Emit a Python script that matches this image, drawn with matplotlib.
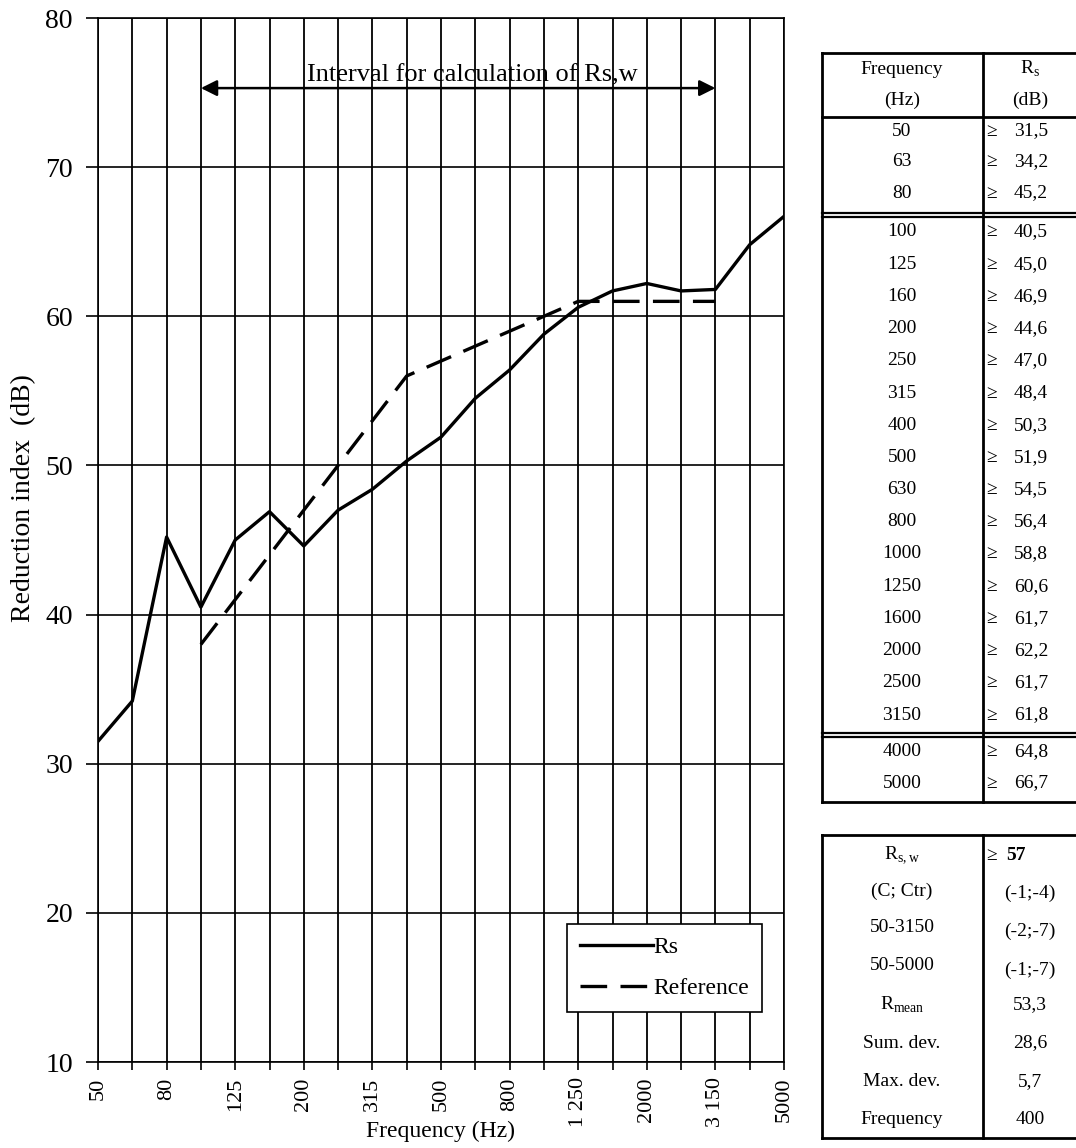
import matplotlib.pyplot as plt

plt.rcParams["font.family"] = ["Liberation Serif", "DejaVu Serif"]

# third-octave bands and measured values
freqs = [50, 63, 80, 100, 125, 160, 200, 250, 315, 400, 500, 630,
         800, 1000, 1250, 1600, 2000, 2500, 3150, 4000, 5000]
rs = [31.5, 34.2, 45.2, 40.5, 45.0, 46.9, 44.6, 47.0, 48.4, 50.3, 51.9,
      54.5, 56.4, 58.8, 60.6, 61.7, 62.2, 61.7, 61.8, 64.8, 66.7]
# shifted reference curve (ISO 717-1), 100-3150 Hz
ref_freqs = [100, 125, 160, 200, 250, 315, 400, 500, 630, 800, 1000,
             1250, 1600, 2000, 2500, 3150]
ref_vals = [38, 41, 44, 47, 50, 53, 56, 57, 58, 59, 60, 61, 61, 61, 61, 61]
tick_labels = ["50", "", "80", "", "125", "", "200", "", "315", "", "500", "",
               "800", "", "1 250", "", "2000", "", "3 150", "", "5000"]

summary_names = ["R$_{\\mathregular{s,w}}$", "(C; Ctr)", "50-3150", "50-5000",
                 "R$_{\\mathregular{mean}}$", "Sum. dev.", "Max. dev.", "Frequency"]
summary_vals = ["57", "(-1;-4)", "(-2;-7)", "(-1;-7)", "53,3", "28,6", "5,7", "400"]

W, H = 1076, 1148
fig = plt.figure(figsize=(W / 100, H / 100), dpi=100)

ax = fig.add_axes([98 / W, 1 - 1062 / H, (784 - 98) / W, (1062 - 18) / H])
idx = {f: i for i, f in enumerate(freqs)}
xi = list(range(len(freqs)))

ax.set_xlim(0, len(freqs) - 1)
ax.set_ylim(10, 80)
for i in xi:
    ax.axvline(i, color="black", lw=1.3, zorder=1)
for y in range(10, 81, 10):
    ax.axhline(y, color="black", lw=1.2, zorder=1)

ax.plot(xi, rs, color="black", lw=2.4, label="Rs", zorder=3)
ax.plot([idx[f] for f in ref_freqs], ref_vals, color="black", lw=2.4,
        dashes=(8, 4), label="Reference", zorder=3)

ax.set_xticks(xi)
ax.set_xticklabels(tick_labels, rotation=90)
ax.set_yticks(range(10, 81, 10))
ax.tick_params(axis="x", direction="out", length=6, width=1.2,
               labelsize=16, pad=5)
ax.tick_params(axis="y", direction="out", length=9, width=1.2,
               labelsize=20, pad=9)
for s in ax.spines.values():
    s.set_linewidth(1.2)
ax.set_xlabel("Frequency (Hz)", fontsize=17)
ax.xaxis.set_label_coords(0.5, -0.056)
ax.set_ylabel("Reduction index  (dB)", fontsize=20)
ax.yaxis.set_label_coords(-0.09, 0.54)

ax.annotate("", xy=(idx[3150], 75.3), xytext=(idx[100], 75.3),
            arrowprops=dict(arrowstyle="<|-|>", color="black", lw=1.8,
                            mutation_scale=24, shrinkA=0, shrinkB=0), zorder=4)
ax.text(10.9, 75.75, "Interval for calculation of Rs,w", fontsize=19,
        ha="center", va="baseline", zorder=4)

leg = ax.legend(loc="lower right", bbox_to_anchor=(0.968, 0.048), fontsize=17,
                fancybox=False, framealpha=1, edgecolor="black",
                handlelength=3.1, handletextpad=0.0, borderpad=0.55,
                labelspacing=0.8, borderaxespad=0)
leg.get_frame().set_linewidth(1.2)
leg.set_zorder(5)

# tables drawn in pixel coordinates
tx = fig.add_axes([0, 0, 1, 1])
tx.set_xlim(0, W)
tx.set_ylim(H, 0)
tx.axis("off")

left, mid, right = 822, 983, 1078
fs = 14


def hline(y, lw=2.0):
    tx.plot([left, right], [y, y], color="black", lw=lw)


def vline(y0, y1, lw=2.0):
    tx.plot([left, left], [y0, y1], color="black", lw=lw)
    tx.plot([mid, mid], [y0, y1], color="black", lw=lw)


# first table: band values
top1, bot1 = 53, 802
hline(top1)
hline(117)
hline(213, 1.6)
hline(217, 1.6)
hline(733, 1.6)
hline(737, 1.6)
hline(bot1)
vline(top1, bot1)

tx.text(902, 69, "Frequency", fontsize=fs, ha="center", va="center")
tx.text(902, 100, "(Hz)", fontsize=fs, ha="center", va="center")
tx.text(1030, 69, "R$_{\\mathregular{s}}$", fontsize=fs, ha="center", va="center")
tx.text(1030, 100, "(dB)", fontsize=fs, ha="center", va="center")

row_y = [131 + 31 * k for k in range(3)]
row_y += [232 + 32.2 * k for k in range(16)]
row_y += [752, 783]

for f, v, y in zip(freqs, rs, row_y):
    tx.text(902, y, str(f), fontsize=fs, ha="center", va="center")
    tx.text(986, y, "\u2265", fontsize=fs, ha="left", va="center")
    tx.text(1014, y, f"{v:.1f}".replace(".", ","), fontsize=fs,
            ha="left", va="center")

# second table: single-number ratings
top2, bot2 = 835, 1138
hline(top2)
hline(bot2)
vline(top2, bot2)
sum_y = [855, 891, 928, 966, 1005, 1043, 1082, 1119]
val_dy = [0, 2, 3, 4, 0, 0, 0, 0]
for k, (n, v, y) in enumerate(zip(summary_names, summary_vals, sum_y)):
    tx.text(902, y, n, fontsize=fs, ha="center", va="center")
    if k == 0:
        tx.text(986, y, "\u2265", fontsize=fs, ha="left", va="center")
        tx.text(1006, y, v, fontsize=fs, ha="left", va="center",
                fontweight="bold")
    else:
        tx.text(1030, y + val_dy[k], v, fontsize=fs, ha="center", va="center")

fig.savefig("out.png", dpi=100)
